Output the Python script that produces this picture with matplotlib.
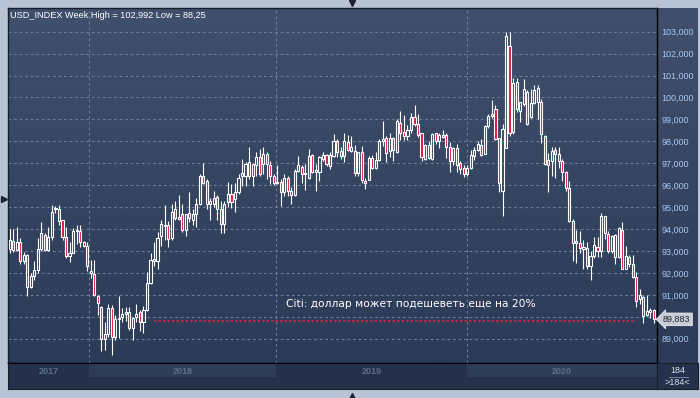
import numpy as np
import matplotlib
matplotlib.use("Agg")
import matplotlib.pyplot as plt
from matplotlib import transforms
from matplotlib.colors import LinearSegmentedColormap
from matplotlib.ticker import FuncFormatter

plt.rcParams["font.family"] = ["Liberation Sans", "DejaVu Sans"]

# USD_INDEX weekly candles (Jul 2017 .. Dec 2020)
opens = [
    93.10, 93.45, 93.05, 93.40, 92.55, 92.80, 91.35, 91.85, 92.15, 93.10,
    93.75, 93.05, 93.65, 94.95, 94.90, 94.40, 93.65, 92.75, 92.90, 93.90,
    93.90, 93.40, 93.25, 92.00, 91.95, 90.95, 90.45, 89.00, 89.20, 90.40,
    89.10, 89.90, 89.98, 90.12, 90.20, 89.50, 89.97, 90.20, 89.77, 90.30,
    91.55, 92.55, 92.55, 93.67, 94.13, 94.20, 93.60, 94.90, 94.45, 94.67,
    93.94, 94.73, 94.40, 94.67, 95.15, 96.40, 96.17, 95.15, 95.15, 95.45,
    94.92, 94.24, 95.23, 95.60, 95.36, 95.67, 96.43, 96.43, 97.04, 96.43,
    96.90, 97.30, 96.96, 97.42, 96.90, 96.43, 96.10, 96.15, 95.67, 96.35,
    95.74, 95.56, 96.65, 96.84, 96.50, 96.35, 97.37, 96.58, 96.60, 97.20,
    97.37, 96.88, 97.34, 98.02, 97.57, 97.34, 97.98, 97.57, 97.57, 96.55,
    97.50, 96.10, 96.23, 97.26, 96.80, 97.16, 98.02, 98.13, 97.57, 98.13,
    97.50, 98.83, 98.43, 98.25, 98.50, 99.10, 98.80, 98.37, 97.20, 97.83,
    97.20, 98.37, 98.02, 98.20, 98.28, 97.72, 97.12, 97.68, 97.00, 96.77,
    96.50, 96.80, 97.35, 97.62, 97.83, 97.42, 98.70, 99.14, 99.47, 98.14,
    95.75, 97.68, 102.36, 98.44, 100.69, 99.40, 99.70, 100.26, 99.10, 99.75,
    99.78, 99.80, 98.26, 96.90, 97.12, 97.62, 97.42, 97.12, 96.60, 95.88,
    94.36, 93.38, 93.38, 93.10, 93.15, 92.32, 92.77, 93.18, 93.00, 94.59,
    93.79, 93.00, 92.73, 92.73, 93.98, 92.20, 92.73, 92.40, 91.80, 90.80,
    90.88, 90.09, 90.24, 90.30,
]
highs = [
    94.00, 94.00, 94.10, 93.60, 92.95, 92.85, 92.00, 92.55, 93.60, 94.30,
    93.80, 94.10, 95.10, 95.05, 95.10, 94.40, 94.10, 93.40, 94.05, 94.20,
    94.20, 93.45, 93.40, 92.60, 92.60, 90.98, 90.50, 89.75, 90.60, 90.55,
    90.10, 90.95, 90.40, 90.45, 90.45, 90.00, 90.60, 90.30, 90.50, 92.05,
    92.90, 93.40, 93.85, 94.40, 95.10, 94.36, 95.15, 95.30, 95.56, 95.15,
    94.70, 95.70, 94.90, 95.40, 96.50, 97.00, 96.30, 95.40, 95.75, 95.55,
    95.30, 95.30, 96.14, 96.05, 96.10, 96.50, 97.20, 97.04, 97.72, 96.96,
    97.50, 97.65, 97.72, 97.50, 97.10, 96.50, 96.90, 96.30, 96.50, 96.43,
    95.90, 96.75, 97.34, 96.90, 96.96, 97.67, 97.42, 96.96, 97.34, 97.50,
    97.42, 97.50, 98.33, 98.10, 97.72, 98.40, 98.30, 98.25, 97.83, 97.52,
    97.80, 96.35, 97.34, 97.40, 97.50, 98.10, 98.94, 98.25, 98.40, 98.20,
    99.00, 99.40, 99.20, 98.75, 99.30, 99.65, 99.25, 98.37, 97.88, 98.02,
    98.37, 98.40, 98.37, 98.53, 98.37, 97.95, 97.75, 97.88, 97.10, 96.90,
    96.90, 97.62, 97.75, 98.00, 98.10, 98.75, 99.25, 99.90, 99.65, 98.14,
    98.80, 102.99, 102.99, 100.87, 100.90, 99.80, 100.85, 100.35, 100.40, 100.57,
    100.55, 99.95, 98.30, 97.45, 97.73, 97.73, 97.75, 97.20, 96.65, 96.20,
    94.45, 93.98, 93.90, 93.50, 93.40, 93.00, 93.65, 93.64, 94.74, 94.59,
    93.92, 93.75, 93.76, 94.09, 94.33, 93.22, 92.82, 92.82, 92.03, 91.27,
    90.95, 91.00, 90.38, 90.35,
]
lows = [
    92.90, 92.95, 93.00, 92.40, 92.40, 90.95, 91.30, 91.70, 92.00, 93.00,
    93.00, 93.00, 93.50, 94.75, 94.20, 93.50, 92.70, 92.50, 92.90, 93.30,
    93.20, 93.20, 92.10, 91.75, 90.95, 90.10, 88.45, 88.50, 89.10, 88.25,
    88.95, 89.05, 89.77, 89.80, 89.40, 88.95, 89.77, 89.36, 89.25, 90.25,
    91.50, 92.30, 92.20, 93.25, 93.50, 93.20, 93.50, 94.40, 94.40, 93.86,
    93.70, 94.30, 94.20, 94.10, 95.10, 96.05, 94.90, 94.40, 95.00, 94.40,
    93.80, 93.80, 95.00, 94.94, 94.76, 95.60, 95.97, 95.97, 96.30, 95.97,
    96.40, 96.43, 96.50, 96.30, 96.05, 96.00, 96.05, 95.06, 95.50, 95.50,
    95.14, 95.50, 96.58, 96.10, 95.80, 96.30, 96.55, 95.74, 96.20, 97.10,
    96.88, 96.75, 97.27, 97.27, 97.20, 97.04, 97.55, 97.50, 96.43, 96.43,
    96.10, 95.82, 96.23, 96.75, 96.75, 97.10, 97.80, 97.04, 97.30, 97.10,
    97.45, 98.05, 98.05, 98.05, 98.40, 98.70, 98.20, 97.10, 97.15, 97.20,
    97.15, 97.90, 97.68, 98.15, 97.25, 96.58, 96.92, 96.59, 96.50, 96.36,
    96.42, 96.75, 97.15, 97.55, 97.35, 97.42, 98.60, 99.05, 98.05, 95.67,
    94.60, 97.68, 98.26, 98.35, 99.35, 98.87, 99.60, 98.75, 99.05, 99.70,
    99.00, 97.92, 96.90, 95.67, 96.40, 96.35, 96.80, 96.20, 95.75, 94.33,
    92.55, 92.47, 92.90, 92.17, 92.17, 91.70, 92.70, 92.73, 92.73, 93.53,
    92.92, 92.92, 92.42, 92.70, 92.17, 92.17, 92.27, 91.78, 90.45, 90.58,
    89.70, 90.05, 89.95, 89.70,
]
closes = [
    93.50, 93.05, 93.40, 92.55, 92.80, 91.35, 91.85, 92.15, 93.10, 93.80,
    93.05, 93.65, 94.80, 94.90, 94.35, 93.65, 92.75, 92.90, 93.90, 93.95,
    93.40, 93.25, 92.30, 92.10, 90.98, 90.65, 89.00, 89.20, 90.40, 89.10,
    89.90, 89.95, 90.15, 90.20, 89.47, 89.95, 90.12, 89.77, 90.30, 91.55,
    92.60, 92.62, 93.60, 94.25, 94.17, 93.56, 94.80, 94.50, 94.55, 93.94,
    94.70, 94.50, 94.70, 95.15, 96.40, 96.10, 95.15, 95.26, 95.40, 94.92,
    94.24, 95.15, 95.60, 95.24, 95.67, 96.35, 96.55, 96.96, 96.43, 96.96,
    97.30, 96.50, 97.42, 96.96, 96.43, 96.10, 96.15, 95.67, 96.35, 95.74,
    95.56, 96.65, 96.90, 96.50, 96.55, 97.34, 96.58, 96.68, 97.30, 97.37,
    96.96, 97.37, 98.02, 97.52, 97.34, 98.02, 97.60, 97.72, 96.55, 97.52,
    96.23, 96.20, 97.26, 96.80, 97.16, 98.02, 98.10, 97.46, 98.13, 97.60,
    98.94, 98.37, 98.25, 98.50, 99.10, 98.80, 98.30, 97.30, 97.83, 97.26,
    98.33, 98.02, 98.28, 98.28, 97.72, 97.10, 97.68, 96.92, 96.74, 96.50,
    96.80, 97.38, 97.62, 97.88, 97.38, 98.70, 99.14, 99.25, 98.10, 96.10,
    98.56, 102.80, 98.38, 100.66, 99.47, 99.78, 100.38, 98.80, 99.75, 100.34,
    100.42, 98.33, 96.97, 97.16, 97.58, 97.42, 97.12, 96.60, 95.88, 94.36,
    93.38, 93.45, 93.12, 93.18, 92.32, 92.77, 93.27, 93.00, 94.59, 93.83,
    93.00, 93.68, 93.73, 94.06, 92.20, 92.77, 92.40, 91.80, 90.73, 91.00,
    90.05, 90.27, 90.30, 89.883,
]

# time axis: bar position where each calendar year starts
year_labels = ["2017", "2018", "2019", "2020"]
year_starts = [22.5, 75.6, 129.9]

price_ticks = list(range(89, 104))

# headline level (red dotted line) and texts
level_price = 89.80
level_from, level_to = 41, 178
headline_bar, headline_price = 78.5, 90.6
headline = "Citi: доллар может подешеветь еще на 20%"
title = "USD_INDEX Week High = 102,992 Low = 88,25"

# colours
frame_col = "#b8c4d5"
bg_top, bg_bottom = "#3f4f6c", "#2b3a57"
grid_col = "#6c7b97"
band_col, stripe_col = "#25314a", "#2f3c57"
red_col = "#e6123d"

# pixel layout of the screenshot
W, H = 700, 398
first_px, bar_px = 9.7, 3.52

fig = plt.figure(figsize=(W / 100, H / 100), dpi=100, facecolor=frame_col)


def px_axes(x0, y0, x1, y1, **kw):
    # pixel box with top-left origin -> figure axes
    return fig.add_axes([x0 / W, 1 - y1 / H, (x1 - x0) / W, (y1 - y0) / H], **kw)


def to_price(y):
    return 103 - (y - 31.7) / 21.93


def price_label(v, _=None):
    # the last-price box covers the scale label next to it
    if abs(v - closes[-1]) < 0.3:
        return ""
    return f"{v:.3f}".replace(".", ",")


x_left = (8 - first_px) / bar_px
x_right = (657 - first_px) / bar_px
y_bottom, y_top = to_price(363), to_price(8)

# gradient behind plot + price scale
ax_bg = px_axes(8, 8, 698, 363, zorder=0)
cmap = LinearSegmentedColormap.from_list("bg", [bg_top, bg_bottom])
ax_bg.imshow(np.linspace(0, 1, 256).reshape(-1, 1), cmap=cmap, aspect="auto",
             extent=[0, 1, 0, 1], origin="upper")
ax_bg.axis("off")

ax = px_axes(8, 8, 657, 363, zorder=1)
ax.patch.set_alpha(0)
ax.set_xlim(x_left, x_right)
ax.set_ylim(y_bottom, y_top)

o, h, l, c = (np.array(v) for v in (opens, highs, lows, closes))
x = np.arange(len(c))
up = c >= o
top = np.maximum(o, c)
bot = np.minimum(o, c)
body = np.maximum(top - bot, 0.05)

ax.vlines(x, top, h, color="white", lw=0.8, zorder=3)
ax.vlines(x, l, bot, color="white", lw=0.8, zorder=3)
ax.bar(x[up], body[up], bottom=bot[up], width=0.6, facecolor="none",
       edgecolor="white", lw=0.8, zorder=4)
ax.bar(x[~up], body[~up], bottom=bot[~up], width=0.6, facecolor=red_col,
       edgecolor="white", lw=0.8, zorder=4)

ax.hlines(level_price, level_from, level_to, color="#e0203f", lw=1.2,
          linestyles=(0, (1.5, 1.2)), zorder=2)
ax.text(headline_bar, headline_price, headline, color="white", fontsize=7.7,
        family=["DejaVu Sans"], va="center", ha="left", zorder=5)
ax.text(2 / 649, 1 - 7 / 355, title, color="white", fontsize=6.6,
        transform=ax.transAxes, va="center", ha="left", zorder=5)

# grid + price scale on the right
ax.set_yticks(price_ticks)
ax.set_xticks(year_starts)
ax.grid(True, color=grid_col, lw=0.8, linestyle=(0, (2.5, 2.5)))
ax.set_axisbelow(True)
ax.yaxis.tick_right()
ax.yaxis.set_major_formatter(FuncFormatter(price_label))
ax.tick_params(axis="y", length=0, pad=3, labelsize=6.5, labelcolor="#a6c8f0")
ax.tick_params(axis="x", length=0, labelbottom=False)
for side in ("top", "left"):
    ax.spines[side].set_color("#161d2b")
ax.spines["right"].set_color("black")
ax.spines["bottom"].set_color("black")
for sp in ax.spines.values():
    sp.set_linewidth(1.0)

# last price marker
last_tr = transforms.blended_transform_factory(ax.transAxes, ax.transData)
ax.annotate(f"{closes[-1]:.3f}".replace(".", ","), xy=(1, closes[-1]),
            xycoords=last_tr, xytext=(6, 0), textcoords="offset pixels",
            fontsize=6.5, color="#1e2636", va="center", ha="left",
            annotation_clip=False, zorder=6,
            bbox=dict(boxstyle="larrow,pad=0.2", fc="#c9ced6", ec="#eef0f4", lw=0.6))

# time axis band
ax_t = px_axes(8, 363, 657, 389, zorder=1)
ax_t.set_facecolor(band_col)
ax_t.set_xlim(x_left, x_right)
ax_t.set_ylim(0, 1)
edges = [x_left] + year_starts + [x_right]
for k, name in enumerate(year_labels):
    a, b = edges[k], edges[k + 1]
    if k % 2 == 1:
        ax_t.axvspan(a, b, ymin=0.46, ymax=1, color=stripe_col, lw=0)
    ax_t.text((a + b) / 2, 0.68, name, ha="center", va="center",
              fontsize=6.5, fontweight="bold", color="#5d6d8a")
ax_t.set_xticks([])
ax_t.set_yticks([])
for side, sp in ax_t.spines.items():
    sp.set_color("black" if side in ("top", "right") else "#161d2b")

# bar counter box
ax_c = px_axes(657, 363, 698, 389, zorder=1)
ax_c.set_facecolor(band_col)
ax_c.set_xlim(0, 1)
ax_c.set_ylim(0, 1)
ax_c.text(0.5, 0.73, str(len(closes)), ha="center", va="center",
          fontsize=6.5, color="#d8e0ec")
ax_c.plot([0.3, 0.75], [0.48, 0.48], color="#8090a8", lw=0.6)
ax_c.text(0.5, 0.24, f">{len(closes)}<", ha="center", va="center",
          fontsize=6.5, color="#d8e0ec")
ax_c.set_xticks([])
ax_c.set_yticks([])
for sp in ax_c.spines.values():
    sp.set_color("#161d2b")

# frame markers (little scroll arrows)
ax_o = fig.add_axes([0, 0, 1, 1], zorder=10)
ax_o.set_xlim(0, W)
ax_o.set_ylim(H, 0)
ax_o.axis("off")
ax_o.patch.set_alpha(0)
ax_o.plot([352], [3], marker="v", color="#1c2436", ms=4.5, ls="none")
ax_o.plot([352], [395.5], marker="^", color="#1c2436", ms=4.5, ls="none")
ax_o.plot([3.5], [199], marker=">", color="#1c2436", ms=5, ls="none")

fig.savefig("out.png", dpi=100, facecolor=frame_col)
